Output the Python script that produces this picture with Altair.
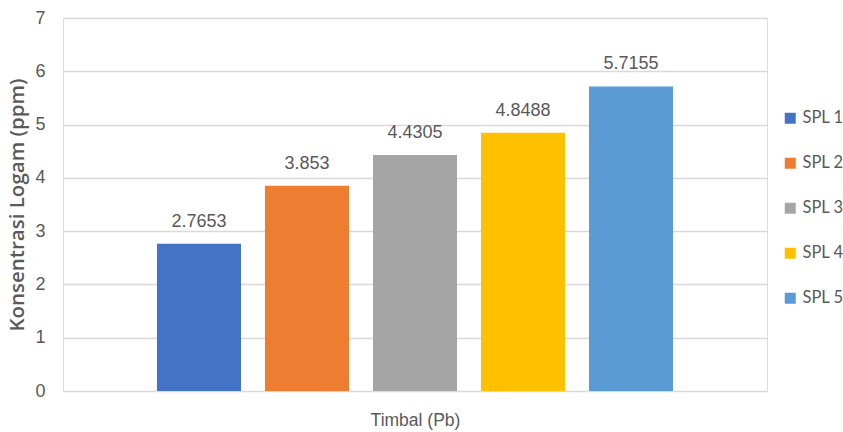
import altair as alt
import pandas as pd

# Lead (Pb) concentration at each sampling point
series = ["SPL 1", "SPL 2", "SPL 3", "SPL 4", "SPL 5"]
values = [2.7653, 3.853, 4.4305, 4.8488, 5.7155]
labels = ["2.7653", "3.853", "4.4305", "4.8488", "5.7155"]
colors = ["#4472C4", "#ED7D31", "#A5A5A5", "#FFC000", "#5B9BD5"]

df = pd.DataFrame({"series": series, "value": values, "label": labels})

FONT = "Liberation Sans"
TITLE_FONT = "Open Sans"
LEGEND_FONT = "Lato"
TXT = "#595959"

x = alt.X(
    "series:N",
    sort=series,
    scale=alt.Scale(paddingInner=0.222, paddingOuter=0.87),
    axis=alt.Axis(
        title="Timbal (Pb)", labels=False, ticks=False, domain=False, grid=False,
        titleFont=FONT, titleFontSize=17.5, titleFontWeight="normal",
        titleColor=TXT, titlePadding=20,
    ),
)

bars = alt.Chart(df).mark_bar().encode(
    x=x,
    y=alt.Y(
        "value:Q",
        scale=alt.Scale(domain=[0, 7]),
        axis=alt.Axis(
            title="Konsentrasi Logam (ppm)", values=list(range(8)), format="d",
            domain=False, ticks=False,
            grid=True, gridColor="#D9D9D9", gridWidth=1.4,
            labelFont=FONT, labelFontSize=18, labelColor=TXT, labelPadding=18,
            titleFont=TITLE_FONT, titleFontSize=20.5, titleFontWeight=600,
            titleColor=TXT, titlePadding=7,
        ),
    ),
    color=alt.Color(
        "series:N",
        sort=series,
        scale=alt.Scale(domain=series, range=colors),
        legend=alt.Legend(
            title=None, orient="none", legendX=719, legendY=92,
            symbolType="square", symbolSize=121, symbolStrokeWidth=0,
            labelFont=LEGEND_FONT, labelFontSize=16.5, labelColor=TXT,
            rowPadding=28, labelOffset=4,
        ),
    ),
)

text = alt.Chart(df).mark_text(
    dy=-17, baseline="alphabetic", font=FONT, fontSize=18, color=TXT
).encode(x=alt.X("series:N", sort=series), y="value:Q", text="label:N")

chart = (
    alt.layer(bars, text)
    .properties(
        width=704, height=373,
        autosize=alt.AutoSizeParams(type="none"),
        padding={"left": 63, "top": 18, "right": 76, "bottom": 41},
    )
    .configure_view(strokeWidth=0)
    .configure(background="white")
)

chart.save("out.html", embed_options={"renderer": "svg", "actions": False})
